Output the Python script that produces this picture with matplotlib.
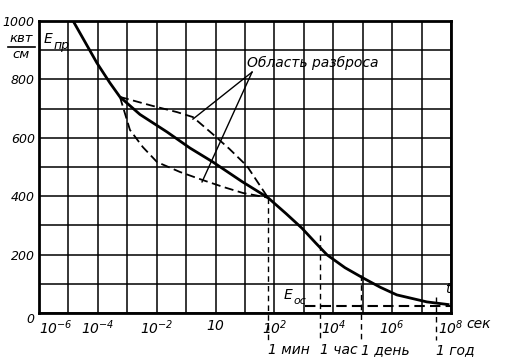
import numpy as np
import matplotlib
matplotlib.use("Agg")
import matplotlib.pyplot as plt
from matplotlib.lines import Line2D

plt.rcParams['font.family'] = ['DejaVu Sans']
plt.rcParams['font.style'] = 'italic'
plt.rcParams['mathtext.default'] = 'it'

# main curve: log10(t, s) and E (kV/cm)
main_logt = [-4.84, -4.03, -3.59, -3.25, -2.57, -1.65, -0.87, -0.09, 0.9, 1.78,
             2.4, 2.94, 3.4, 3.79, 4.4, 5.01, 5.6, 6.16, 7.18, 7.9]
main_E = [1000, 856, 788, 740, 680, 620, 565, 517, 450, 395,
          340, 290, 240, 199, 155, 120, 88, 62, 38, 29]

# scatter region boundaries
upper_logt = [-3.25, -2.13, -1.31, -0.77, -0.1, 0.47, 1.07, 1.78]
upper_E = [740, 709, 688, 671, 613, 562, 503, 395]
lower_logt = [-3.25, -2.91, -2.47, -1.99, -1.21, -0.43, 0.25, 0.93, 1.78]
lower_E = [740, 627, 568, 517, 483, 455, 432, 411, 395]

# E_oc asymptote
eoc_logt = [3.03, 8.0]
eoc_E = 24

# time marks
mark_sec = [60, 3600, 86400, 3.15e7]
mark_top = [395, 267, 130, 55]
mark_labels = ['1 мин', '1 час', '1 день', '1 год']

xtick_exp = [-6, -4, -2, 0, 2, 4, 6, 8]
xtick_labels = ['$10^{-6}$', '$10^{-4}$', '$10^{-2}$', '$10$', '$10^{2}$',
                '$10^{4}$', '$10^{6}$', '$10^{8}$']
ytick_vals = [0, 200, 400, 600, 800, 1000]

fig = plt.figure(figsize=(5.05, 3.59), dpi=100)
ax = fig.add_axes([39 / 505, 1 - 313 / 359, 412 / 505, 292 / 359])

ax.set_xscale('log')
ax.set_xlim(1e-6, 1e8)
ax.set_ylim(0, 1000)

ax.set_xticks([10.0 ** e for e in xtick_exp])
ax.set_xticklabels(xtick_labels, fontsize=10)
ax.get_xticklabels()[0].set_ha('left')
ax.set_xticks([10.0 ** e for e in range(-6, 9)], minor=True)
ax.xaxis.set_minor_formatter(plt.NullFormatter())
ax.set_yticks(ytick_vals)
ax.set_yticklabels([str(v) for v in ytick_vals], fontsize=9)
ax.get_yticklabels()[0].set_va('top')
ax.tick_params(axis='y', pad=3)
ax.set_yticks(range(0, 1001, 100), minor=True)
ax.tick_params(which='both', length=0)
ax.tick_params(axis='x', pad=4)
ax.grid(which='both', color='black', lw=1.1)
for s in ax.spines.values():
    s.set_linewidth(2)

t = lambda lst: 10.0 ** np.array(lst)

ax.plot(t(main_logt), main_E, color='black', lw=2)
dash = (5, 2.5)
ax.plot(t(upper_logt), upper_E, color='black', lw=1.3, dashes=dash)
ax.plot(t(lower_logt), lower_E, color='black', lw=1.3, dashes=dash)
ax.plot(t(eoc_logt), [eoc_E, eoc_E], color='black', lw=1.5, dashes=dash)

for sec, top in zip(mark_sec, mark_top):
    ax.plot([sec, sec], [top, -92], color='black', lw=1, dashes=(4, 3),
            clip_on=False)
for sec, lab in zip(mark_sec, mark_labels):
    ax.text(sec, -128, lab, fontsize=10, ha='left', va='center',
            transform=ax.transData)

# leaders to the scatter region
ax.plot(t([1.24, -0.77]), [825, 664], color='black', lw=1)
ax.plot(t([1.24, -0.46]), [825, 449], color='black', lw=1)
ax.text(10 ** 1.07, 856, 'Область разброса', fontsize=10, va='center')

ax.text(10 ** -5.85, 940, 'E', fontsize=10, va='center')
ax.text(10 ** -5.5, 915, 'пр', fontsize=9, va='center')
ax.text(10 ** 2.3, 62, 'E', fontsize=10, va='center')
ax.text(10 ** 2.65, 42, 'ос', fontsize=8, va='center')
ax.text(10 ** 7.8, 82, 't', fontsize=10, va='center')

fig.text(466 / 505, 1 - 324 / 359, 'сек', fontsize=10, va='center')

# unit label
fig.text(21 / 505, 1 - 39 / 359, 'квт', fontsize=9.5, ha='center', va='center')
fig.add_artist(Line2D([8 / 505, 35 / 505], [1 - 47 / 359, 1 - 47 / 359],
                      color='black', lw=1.2))
fig.text(21 / 505, 1 - 55 / 359, 'см', fontsize=9.5, ha='center', va='center')

fig.savefig('out.png', dpi=100)
